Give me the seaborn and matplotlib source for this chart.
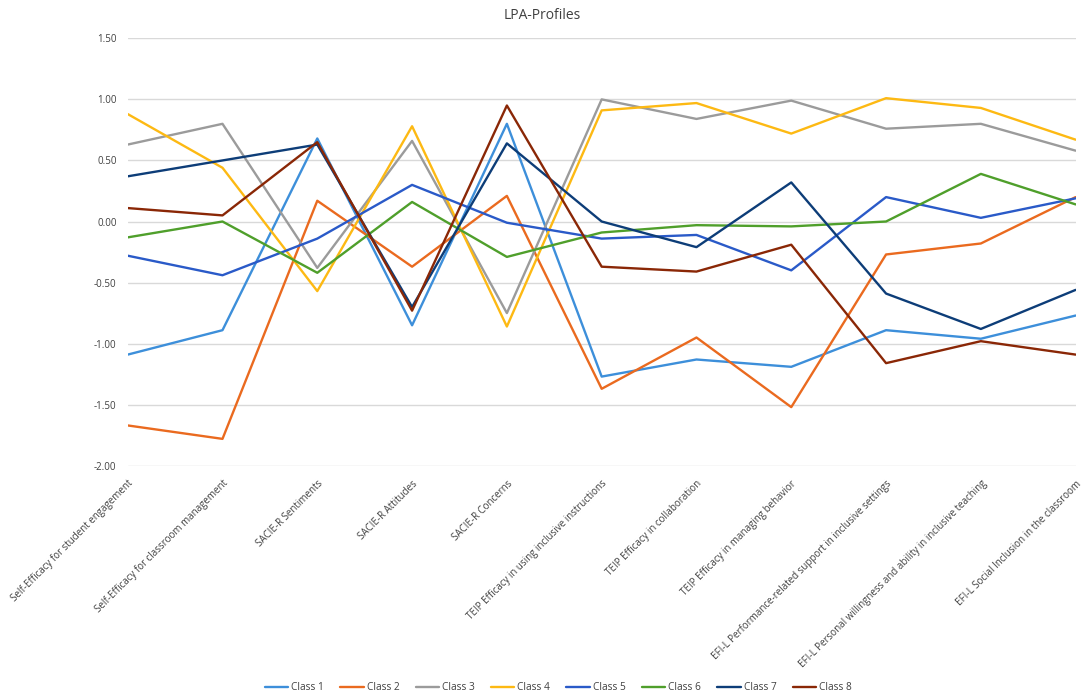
import matplotlib
matplotlib.use("Agg")
import matplotlib.pyplot as plt
import seaborn as sns
import pandas as pd
import numpy as np

categories = [
    "Self-Efficacy for student engagement",
    "Self-Efficacy for classroom management",
    "SACIE-R Sentiments",
    "SACIE-R Attitudes",
    "SACIE-R Concerns",
    "TEIP Efficacy in using inclusive instructions",
    "TEIP Efficacy in collaboration",
    "TEIP Efficacy in managing behavior",
    "EFI-L Performance-related support in inclusive settings",
    "EFI-L Personal willingness and ability in inclusive teaching",
    "EFI-L Social Inclusion in the classroom",
]

class_1 = [-1.09, -0.89, 0.68, -0.85, 0.80, -1.27, -1.13, -1.19, -0.89, -0.96, -0.77]
class_2 = [-1.67, -1.78, 0.17, -0.37, 0.21, -1.37, -0.95, -1.52, -0.27, -0.18, 0.20]
class_3 = [0.63, 0.80, -0.38, 0.66, -0.75, 1.00, 0.84, 0.99, 0.76, 0.80, 0.58]
class_4 = [0.88, 0.44, -0.57, 0.78, -0.86, 0.91, 0.97, 0.72, 1.01, 0.93, 0.67]
class_5 = [-0.28, -0.44, -0.14, 0.30, -0.01, -0.14, -0.11, -0.40, 0.20, 0.03, 0.19]
class_6 = [-0.13, 0.00, -0.42, 0.16, -0.29, -0.09, -0.03, -0.04, 0.00, 0.39, 0.14]
class_7 = [0.37, 0.50, 0.63, -0.70, 0.64, 0.00, -0.21, 0.32, -0.59, -0.88, -0.56]
class_8 = [0.11, 0.05, 0.65, -0.73, 0.95, -0.37, -0.41, -0.19, -1.16, -0.98, -1.09]

class_names = ["Class 1", "Class 2", "Class 3", "Class 4",
               "Class 5", "Class 6", "Class 7", "Class 8"]
series = [class_1, class_2, class_3, class_4, class_5, class_6, class_7, class_8]

colors = ["#3d8fda", "#ea6a1f", "#9b9b9b", "#fdb913",
          "#2a5ac8", "#4f9f2b", "#0d3d78", "#8a2706"]

rows = []
for name, vals in zip(class_names, series):
    for i, (c, v) in enumerate(zip(categories, vals)):
        rows.append({"pos": i, "category": c, "class": name, "value": v})
df = pd.DataFrame(rows)

sns.set_theme(style="white")
plt.rcParams["font.family"] = ["Open Sans", "DejaVu Sans"]

fig = plt.figure(figsize=(10.84, 6.97), dpi=100)
ax = fig.add_axes([0.1178, 0.3318, 0.8745, 0.6132])

sns.lineplot(data=df, x="pos", y="value", hue="class", palette=colors,
             linewidth=1.7, sort=False, ax=ax, legend=True)

ax.set_xlim(0, len(categories) - 1)
ax.set_ylim(-2.0, 1.5)
ax.set_yticks(np.arange(-2.0, 1.51, 0.5))
ax.set_yticklabels([f"{t:.2f}" for t in np.arange(-2.0, 1.51, 0.5)],
                   fontsize=7, color="#404040")
ax.set_xticks(range(len(categories)))
ax.set_xticklabels(categories, rotation=45, ha="right", va="top",
                   rotation_mode="anchor", fontsize=7, color="#404040")
ax.tick_params(axis="x", length=0, pad=9)
ax.tick_params(axis="y", length=0, pad=8)
ax.yaxis.grid(True, color="#d9d9d9", linewidth=1.0)
ax.xaxis.grid(False)
ax.set_axisbelow(True)
for s in ax.spines.values():
    s.set_visible(False)
ax.set_xlabel("")
ax.set_ylabel("")

ax.legend_.remove()
handles, labels = ax.get_legend_handles_labels()
fig.legend(handles, labels, loc="center", bbox_to_anchor=(0.515, 0.013),
           ncol=8, frameon=False, fontsize=7.3, handlelength=2.3,
           handletextpad=0.3, columnspacing=1.6, labelcolor="#404040")

fig.text(0.5, 0.978, "LPA-Profiles", ha="center", va="center",
         fontsize=10, color="#404040")

fig.savefig("out.png", dpi=100)
